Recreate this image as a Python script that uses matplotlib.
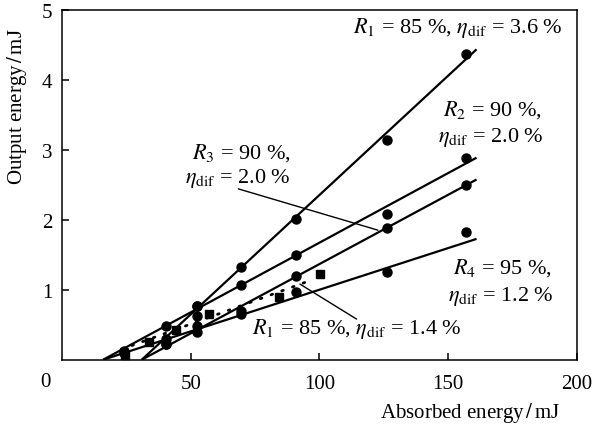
import matplotlib
matplotlib.use('Agg')
import matplotlib.pyplot as plt
import numpy as np

plt.rcParams['font.family'] = ['Liberation Serif', 'DejaVu Serif']
plt.rcParams['mathtext.fontset'] = 'stix'

# measured points (absorbed energy mJ, output energy mJ)
x_r1a = [40.3, 52.5, 69.4, 90.9, 126.3, 157.0]
y_r1a = [0.22, 0.77, 1.32, 2.01, 3.14, 4.37]
x_r2 = [24.0, 40.3, 52.5, 69.4, 90.9, 126.3, 157.0]
y_r2 = [0.13, 0.48, 0.77, 1.07, 1.49, 2.08, 2.88]
x_r3 = [40.3, 52.5, 69.4, 90.9, 126.3, 157.0]
y_r3 = [0.30, 0.48, 0.70, 1.19, 1.88, 2.49]
x_r4 = [24.0, 40.3, 52.5, 52.5, 69.4, 90.9, 126.3, 157.0]
y_r4 = [0.10, 0.22, 0.40, 0.62, 0.65, 0.96, 1.25, 1.82]
x_sq = [24.6, 33.9, 44.2, 57.1, 84.4, 100.2]
y_sq = [0.06, 0.25, 0.42, 0.65, 0.89, 1.22]

# linear fits: threshold (mJ), slope, end of fit (mJ)
fit_thr = [31.0, 16.0, 31.0, 16.0]
fit_slope = [0.0341, 0.0199, 0.0198, 0.0119]
fit_end = 161.0
dot_thr = 12.0
dot_slope = 0.0134
dot_range = [23.0, 97.0]

fig = plt.figure(figsize=(5.95, 4.27), dpi=100)
ax = fig.add_axes([0.1042, 0.1553, 0.8655, 0.8197])

for xs, ys in [(x_r1a, y_r1a), (x_r2, y_r2), (x_r3, y_r3), (x_r4, y_r4)]:
    ax.plot(xs, ys, 'o', color='black', ms=6.5, zorder=3)
ax.plot(x_sq, y_sq, 's', color='black', ms=6, zorder=3)

for thr, k in zip(fit_thr, fit_slope):
    xx = np.array([thr, fit_end])
    ax.plot(xx, k * (xx - thr), color='black', lw=1.6, solid_capstyle='butt')

xd = np.array(dot_range)
ax.plot(xd, dot_slope * (xd - dot_thr), color='black', lw=2, linestyle=(0, (0.6, 3.5)),
        dash_capstyle='round')

fs = 15
afs = 16
eta = r'$\eta_{\mathrm{dif}}$'
ax.text(194.2, 4.75, r'$R_1$ = 85 %, ' + eta + ' = 3.6 %', fontsize=afs,
        ha='right', va='center')
ax.text(148, 3.58, r'$R_2$ = 90 %,', fontsize=afs, ha='left', va='center')
ax.text(146, 3.19, eta + ' = 2.0 %', fontsize=afs, ha='left', va='center')
ax.text(50.3, 2.97, r'$R_3$ = 90 %,', fontsize=afs, ha='left', va='center')
ax.text(47.8, 2.60, eta + ' = 2.0 %', fontsize=afs, ha='left', va='center')
ax.text(151.8, 1.32, r'$R_4$ = 95 %,', fontsize=afs, ha='left', va='center')
ax.text(149.9, 0.92, eta + ' = 1.2 %', fontsize=afs, ha='left', va='center')
ax.text(73.7, 0.45, r'$R_1$ = 85 %, ' + eta + ' = 1.4 %', fontsize=afs,
        ha='left', va='center')

# leader lines
ax.annotate('', xy=(122.7, 1.85), xytext=(68.5, 2.44),
            arrowprops=dict(arrowstyle='-', lw=1, color='black', shrinkA=0, shrinkB=0))
ax.annotate('', xy=(92.4, 1.08), xytext=(114.4, 0.58),
            arrowprops=dict(arrowstyle='-', lw=1, color='black', shrinkA=0, shrinkB=0))

ax.set_xlim(0, 200)
ax.set_ylim(0, 5)
ax.set_xticks([50, 100, 150, 200])
ax.set_yticks([1, 2, 3, 4, 5])
ax.tick_params(direction='in', length=5, width=1.1, labelsize=fs)
ax.tick_params(axis='x', pad=10)
ax.tick_params(axis='y', pad=7)
for s in ax.spines.values():
    s.set_linewidth(1.1)
ax.text(-0.033, -0.035, '0', transform=ax.transAxes, fontsize=fs, ha='center', va='top')

ax.set_xlabel(r'Absorbed energy$\,/\,$mJ', fontsize=fs, va='center', ha='center')
ax.xaxis.set_label_coords(0.792, -0.149)
ax.set_ylabel(r'Output energy$\,/\,$mJ', fontsize=fs, va='center', ha='center')
ax.yaxis.set_label_coords(-0.087, 0.725)

fig.savefig('out.png', dpi=100, facecolor='white')
